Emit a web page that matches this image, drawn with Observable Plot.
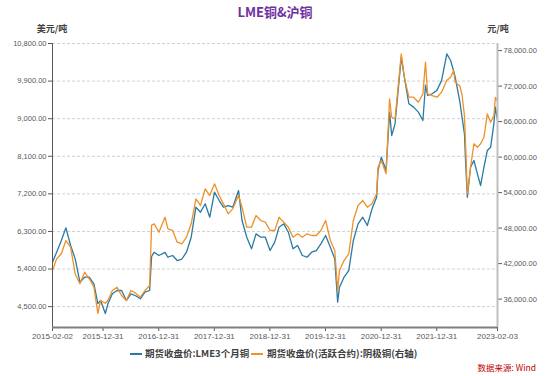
<!DOCTYPE html>
<html>
<head>
<meta charset="utf-8">
<script src="https://cdn.jsdelivr.net/npm/d3@7"></script>
<script src="https://cdn.jsdelivr.net/npm/@observablehq/plot@0.6"></script>
<style>
  body { margin: 0; background: #fff; font-family: "Noto Sans CJK SC", "Noto Sans", sans-serif; }
  #wrap { position: relative; width: 550px; height: 376px; overflow: hidden; }
  #chart { position: absolute; left: 0; top: 0; }
  #title { position: absolute; left: 0; top: 3px; width: 550px; text-align: center; font-weight: bold; font-size: 13px; line-height: 18px; color: #7030A0; }
  .unit { position: absolute; top: 22px; font-size: 9px; font-weight: bold; line-height: 14px; color: #404040; transform: translateX(-50%); white-space: nowrap; }
  .leg { position: absolute; top: 346px; font-size: 9.5px; font-weight: bold; line-height: 15px; color: #404040; white-space: nowrap; }
  .sw { position: absolute; top: 353px; height: 2px; width: 12px; }
  #source { position: absolute; right: 14px; top: 360px; font-size: 8.5px; line-height: 14px; color: #C00000; white-space: nowrap; }
</style>
</head>
<body>
<div id="wrap">
  <div id="chart"></div>
  <div id="title">LME铜&amp;沪铜</div>
  <div class="unit" style="left:52px">美元/吨</div>
  <div class="unit" style="left:498px">元/吨</div>
  <div class="sw" id="sw1" style="left:130px"></div>
  <div class="leg" id="leg1" style="left:145px"></div>
  <div class="sw" id="sw2" style="left:251px"></div>
  <div class="leg" id="leg2" style="left:267px"></div>
  <div id="source">数据来源: Wind</div>
</div>
<script>
// ---- data ----
const seriesNames = ["期货收盘价:LME3个月铜", "期货收盘价(活跃合约):阴极铜(右轴)"];
const dates = [
  "2015-02-02","2015-03-01","2015-04-01","2015-05-01","2015-06-01","2015-07-01","2015-08-01","2015-09-01",
  "2015-10-01","2015-11-01","2015-11-27","2015-12-15","2016-01-15","2016-02-01","2016-03-01","2016-04-01",
  "2016-05-01","2016-06-01","2016-07-01","2016-08-01","2016-09-01","2016-10-01","2016-11-01","2016-11-14",
  "2016-12-01","2017-01-01","2017-02-10","2017-03-01","2017-04-01","2017-05-01","2017-06-01","2017-07-01",
  "2017-08-01","2017-09-01","2017-10-01","2017-11-01","2017-12-01","2018-01-01","2018-02-01","2018-03-01",
  "2018-04-01","2018-05-01","2018-06-08","2018-07-01","2018-08-01","2018-09-01","2018-10-01","2018-11-01",
  "2018-12-01","2019-01-01","2019-02-01","2019-03-01","2019-04-01","2019-05-01","2019-06-01","2019-07-01",
  "2019-08-01","2019-09-01","2019-10-01","2019-11-01","2019-12-01","2020-01-01","2020-02-01","2020-03-01",
  "2020-03-20","2020-04-01","2020-05-01","2020-06-01","2020-07-01","2020-08-01","2020-09-01","2020-10-01",
  "2020-11-01","2020-12-01","2020-12-10","2021-01-01","2021-02-01","2021-02-24","2021-03-10","2021-04-01",
  "2021-05-12","2021-06-01","2021-07-01","2021-08-01","2021-09-01","2021-10-01","2021-10-18","2021-11-01",
  "2021-12-01","2022-01-01","2022-02-01","2022-03-07","2022-04-01","2022-04-20","2022-05-01","2022-06-01",
  "2022-06-15","2022-07-01","2022-07-10","2022-07-20","2022-08-10","2022-09-01","2022-09-24","2022-10-15",
  "2022-11-06","2022-11-28","2022-12-20","2023-01-10","2023-01-20","2023-02-03"
];
const lme = [
  5563,5803,6083,6387,5963,5644,5085,5204,
  5204,5046,4570,4646,4335,4567,4807,4886,
  4886,4646,4807,4760,4687,4845,4886,5700,
  5803,5724,5800,5683,5724,5604,5640,5803,
  6162,6880,6761,6962,6641,7240,7040,6880,
  6920,6880,7280,6562,6162,5884,6242,6162,
  6162,5843,6043,6402,6482,6282,5884,5963,
  5724,5683,5803,5843,6003,6202,5922,5644,
  4606,4965,5204,5364,6083,6482,6641,6442,
  6841,7119,7758,8078,7758,9157,8597,8877,
  10473,9997,9357,9277,9157,8957,9800,9557,
  9597,9677,9917,10553,10393,10150,9997,9400,
  9037,8637,7838,7119,7838,7998,7679,7400,
  7838,8237,8317,8877,9277,8957
];
const shfe = [
  40833,42800,43655,45903,44770,40275,38585,40550,
  39430,38010,33600,35763,35300,35763,37453,38010,
  36608,35763,37453,37000,36320,37453,38298,48500,
  48725,47300,49846,47880,47600,45620,45350,46460,
  48725,52950,51818,54640,53508,55485,53508,52100,
  50409,51260,53500,51530,48150,48150,50130,49283,
  49000,47593,47593,49846,49000,48150,46460,47030,
  46460,47030,46750,46750,47593,49283,45903,44210,
  37453,40833,42523,43650,49283,51818,52663,51530,
  52100,53800,58290,59420,57170,69850,66740,66470,
  77460,73500,70120,70120,69270,70690,76040,70690,
  70400,70120,70970,73000,73500,74600,72660,72000,
  70500,67000,61110,53800,58290,62250,61670,62250,
  63360,67320,65900,67000,70100,69400
];
const leftTicks = [4500, 5400, 6300, 7200, 8100, 9000, 9900, 10800];
const rightTicks = [36000, 42000, 48000, 54000, 60000, 66000, 72000, 78000];
const xTickLabels = ["2015-02-02","2015-12-31","2016-12-31","2017-12-31","2018-12-31","2019-12-31","2020-12-31","2021-12-31","2023-02-03"];

// ---- setup ----
const blue = "#2a7aa3", orange = "#ee9129";
const leftDomain = [4000, 10800];
const rightDomain = [31200, 79200];
const k = (leftDomain[1] - leftDomain[0]) / (rightDomain[1] - rightDomain[0]);
const toLeft = v => leftDomain[0] + (v - rightDomain[0]) * k;
const fromLeft = v => rightDomain[0] + (v - leftDomain[0]) / k;
const parse = d3.utcParse("%Y-%m-%d");
const fmt = d3.format(",.2f");
const rows = dates.map((d, i) => ({date: parse(d), lme: lme[i], shfe: shfe[i]}));
const xStart = parse(xTickLabels[0]);
const xEnd = parse(xTickLabels[xTickLabels.length - 1]);

const chart = Plot.plot({
  width: 550,
  height: 345,
  marginTop: 43,
  marginBottom: 18,
  marginLeft: 52,
  marginRight: 53,
  style: {fontFamily: "'Liberation Sans', Arial, sans-serif", fontSize: "8px", color: "#595959", background: "transparent"},
  x: {type: "utc", domain: [xStart, xEnd]},
  y: {domain: leftDomain},
  marks: [
    Plot.gridY(leftTicks, {stroke: "#d0d0d0", strokeOpacity: 1, strokeDasharray: "3,2"}),
    Plot.axisY(leftTicks, {anchor: "left", tickFormat: fmt, tickSize: 4, tickPadding: 2, label: null, fontSize: 7.5}),
    Plot.axisY(rightTicks.map(toLeft), {anchor: "right", tickFormat: d => fmt(Math.round(fromLeft(d))), tickSize: 4, tickPadding: 2, label: null, fontSize: 7.5}),
    Plot.axisX(xTickLabels.map(parse), {tickFormat: d3.utcFormat("%Y-%m-%d"), tickSize: 4, tickPadding: 2, label: null}),
    Plot.line(rows, {x: "date", y: "lme", stroke: blue, strokeWidth: 1.3}),
    Plot.line(rows, {x: "date", y: d => toLeft(d.shfe), stroke: orange, strokeWidth: 1.3}),
    Plot.ruleX([xStart], {stroke: "#595959", strokeWidth: 1}),
    Plot.ruleX([xEnd], {stroke: "#bfbfbf", strokeWidth: 2}),
    Plot.ruleY([leftDomain[0]], {stroke: "#7f7f7f", strokeWidth: 2})
  ]
});
document.getElementById("chart").appendChild(chart);
document.getElementById("sw1").style.background = blue;
document.getElementById("sw2").style.background = orange;
document.getElementById("leg1").textContent = seriesNames[0];
document.getElementById("leg2").textContent = seriesNames[1];
</script>
</body>
</html>
